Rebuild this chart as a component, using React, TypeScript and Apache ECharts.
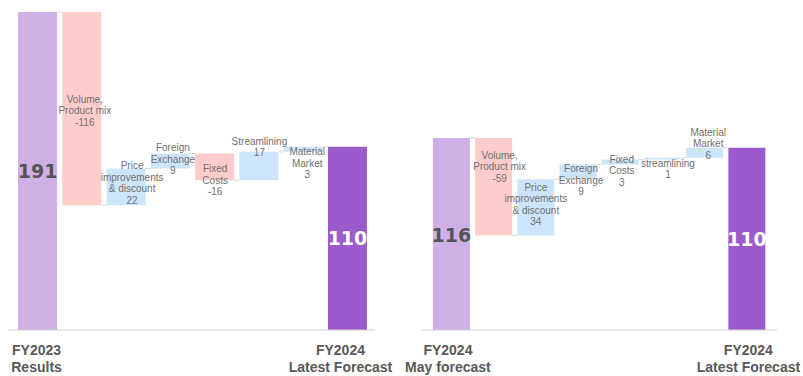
import React, { useEffect, useRef } from "react";
import * as echarts from "echarts";

// ---- data ----
const leftCategories = [
  "FY2023\nResults",
  "Volume,\nProduct mix",
  "Price\nimprovements\n& discount",
  "Foreign\nExchange",
  "Fixed\nCosts",
  "Streamlining",
  "Material\nMarket",
  "FY2024\nLatest Forecast",
];
const leftValues = [191, -116, 22, 9, -16, 17, 3, 110];
const leftKinds = ["total", "delta", "delta", "delta", "delta", "delta", "delta", "total"];

const rightCategories = [
  "FY2024\nMay forecast",
  "Volume,\nProduct mix",
  "Price\nimprovements\n& discount",
  "Foreign\nExchange",
  "Fixed\nCosts",
  "streamlining",
  "Material\nMarket",
  "FY2024\nLatest Forecast",
];
const rightValues = [116, -59, 34, 9, 3, 1, 6, 110];
const rightKinds = ["total", "delta", "delta", "delta", "delta", "delta", "delta", "total"];

// ---- layout (label nudges in px, not data) ----
const leftLabelNudge = [[0, 0], [3, 2], [6, -4], [2.5, -2], [0.5, 13.5], [0.5, -19], [4, 14], [0, 0]];
const rightLabelNudge = [[0, 1], [6, -20], [0, -3], [3, 8.5], [1.5, 9], [5.5, 10.5], [3.5, -9], [0, 0]];

const COLORS = {
  startTotal: "#CFB0E6",
  endTotal: "#9C5BCD",
  neg: "#FFCCCC",
  pos: "#CCE5FB",
  connector: "#D9D9D9",
  axis: "#D0D0D0",
};

function buildWaterfall(values: number[], kinds: string[]) {
  const base: number[] = [];
  const height: number[] = [];
  const ends: number[] = [];
  let level = 0;
  values.forEach((v, i) => {
    if (kinds[i] === "total") {
      base.push(0);
      height.push(v);
      level = v;
    } else {
      const start = level;
      const end = start + v;
      base.push(Math.min(start, end));
      height.push(Math.abs(v));
      level = end;
    }
    ends.push(level);
  });
  return { base, height, ends };
}

function makeSeries(
  idx: number,
  categories: string[],
  values: number[],
  kinds: string[],
  nudges: number[][],
  barWidth: number
) {
  const wf = buildWaterfall(values, kinds);
  const n = values.length;
  const visible = wf.height.map((h, i) => {
    const isTotal = kinds[i] === "total";
    const color = isTotal
      ? i === 0
        ? COLORS.startTotal
        : COLORS.endTotal
      : values[i] < 0
      ? COLORS.neg
      : COLORS.pos;
    const text = isTotal ? String(values[i]) : categories[i] + "\n" + String(values[i]);
    const label: any = {
      show: true,
      position: "inside",
      offset: nudges[i],
      formatter: text,
    };
    if (isTotal) {
      Object.assign(label, {
        fontFamily: "DejaVu Sans",
        fontWeight: "bold",
        fontSize: 19,
        color: i === 0 ? "#555555" : "#FFFFFF",
      });
    } else {
      Object.assign(label, {
        fontFamily: "Liberation Sans, Arial, sans-serif",
        fontSize: 10,
        lineHeight: 11.5,
        color: "#707070",
      });
    }
    return { value: h, itemStyle: { color }, label };
  });
  const connectors = wf.ends.slice(0, n - 1).map((lv, i) => [i, lv]);
  return [
    {
      type: "bar",
      xAxisIndex: idx,
      yAxisIndex: idx,
      stack: "wf" + idx,
      barWidth,
      itemStyle: { color: "transparent" },
      emphasis: { disabled: true },
      silent: true,
      data: wf.base,
    },
    {
      type: "bar",
      xAxisIndex: idx,
      yAxisIndex: idx,
      stack: "wf" + idx,
      barWidth,
      data: visible,
    },
    {
      type: "custom",
      xAxisIndex: idx,
      yAxisIndex: idx,
      silent: true,
      encode: { x: 0, y: 1 },
      data: connectors,
      renderItem: (params: any, api: any) => {
        const i = api.value(0);
        const lv = api.value(1);
        const p = api.coord([i, lv]);
        const w = api.size([1, 0])[0];
        return {
          type: "line",
          shape: { x1: p[0] + barWidth / 2, y1: p[1], x2: p[0] + w - barWidth / 2, y2: p[1] },
          style: { stroke: COLORS.connector, lineWidth: 1 },
        };
      },
    },
  ];
}

function makeXAxis(idx: number, categories: string[], firstPad: number[], lastPad: number[]) {
  const n = categories.length;
  const labelStyle = {
    fontFamily: "Liberation Sans, Arial, sans-serif",
    fontWeight: "bold",
    fontSize: 14,
    lineHeight: 16.5,
    color: "#595959",
  };
  return {
    type: "category",
    gridIndex: idx,
    data: categories,
    axisLine: { show: false },
    axisTick: { show: false },
    axisLabel: {
      interval: 0,
      margin: 12,
      formatter: (value: string, index: number) => {
        if (index === 0) return value.split("\n").map((s) => `{f|${s}}`).join("\n");
        if (index === n - 1) return value.split("\n").map((s) => `{l|${s}}`).join("\n");
        return "";
      },
      rich: {
        f: { ...labelStyle, padding: firstPad },
        l: { ...labelStyle, padding: lastPad },
      },
    },
  };
}

export default function App() {
  const ref = useRef<HTMLDivElement>(null);
  useEffect(() => {
    if (!ref.current) return;
    const chart = echarts.init(ref.current, undefined, { renderer: "svg" });
    chart.setOption({
      animation: false,
      backgroundColor: "#FFFFFF",
      grid: [
        { left: 15.4, right: 803 - 369.6, top: 12, bottom: 46 },
        { left: 430.3, right: 803 - 769.7, top: 12, bottom: 46 },
      ],
      xAxis: [
        makeXAxis(0, leftCategories, [0, 2, 0, 0], [0, 14, 0, 0]),
        makeXAxis(1, rightCategories, [0, 7, 0, 0], [0, 0, 0, 3]),
      ],
      yAxis: [
        { type: "value", gridIndex: 0, min: 0, max: 191, show: false },
        { type: "value", gridIndex: 1, min: 0, max: 192, show: false },
      ],
      graphic: [
        { type: "line", shape: { x1: 8, y1: 330, x2: 375, y2: 330 }, style: { stroke: COLORS.axis, lineWidth: 1 }, z: 10 },
        { type: "line", shape: { x1: 422, y1: 330, x2: 777, y2: 330 }, style: { stroke: COLORS.axis, lineWidth: 1 }, z: 10 },
      ],
      series: [
        ...makeSeries(0, leftCategories, leftValues, leftKinds, leftLabelNudge, 39),
        ...makeSeries(1, rightCategories, rightValues, rightKinds, rightLabelNudge, 37),
      ],
    });
    return () => chart.dispose();
  }, []);
  return (
    <div
      ref={ref}
      style={{ position: "fixed", left: 0, top: 0, width: 803, height: 376, background: "#fff" }}
    />
  );
}
